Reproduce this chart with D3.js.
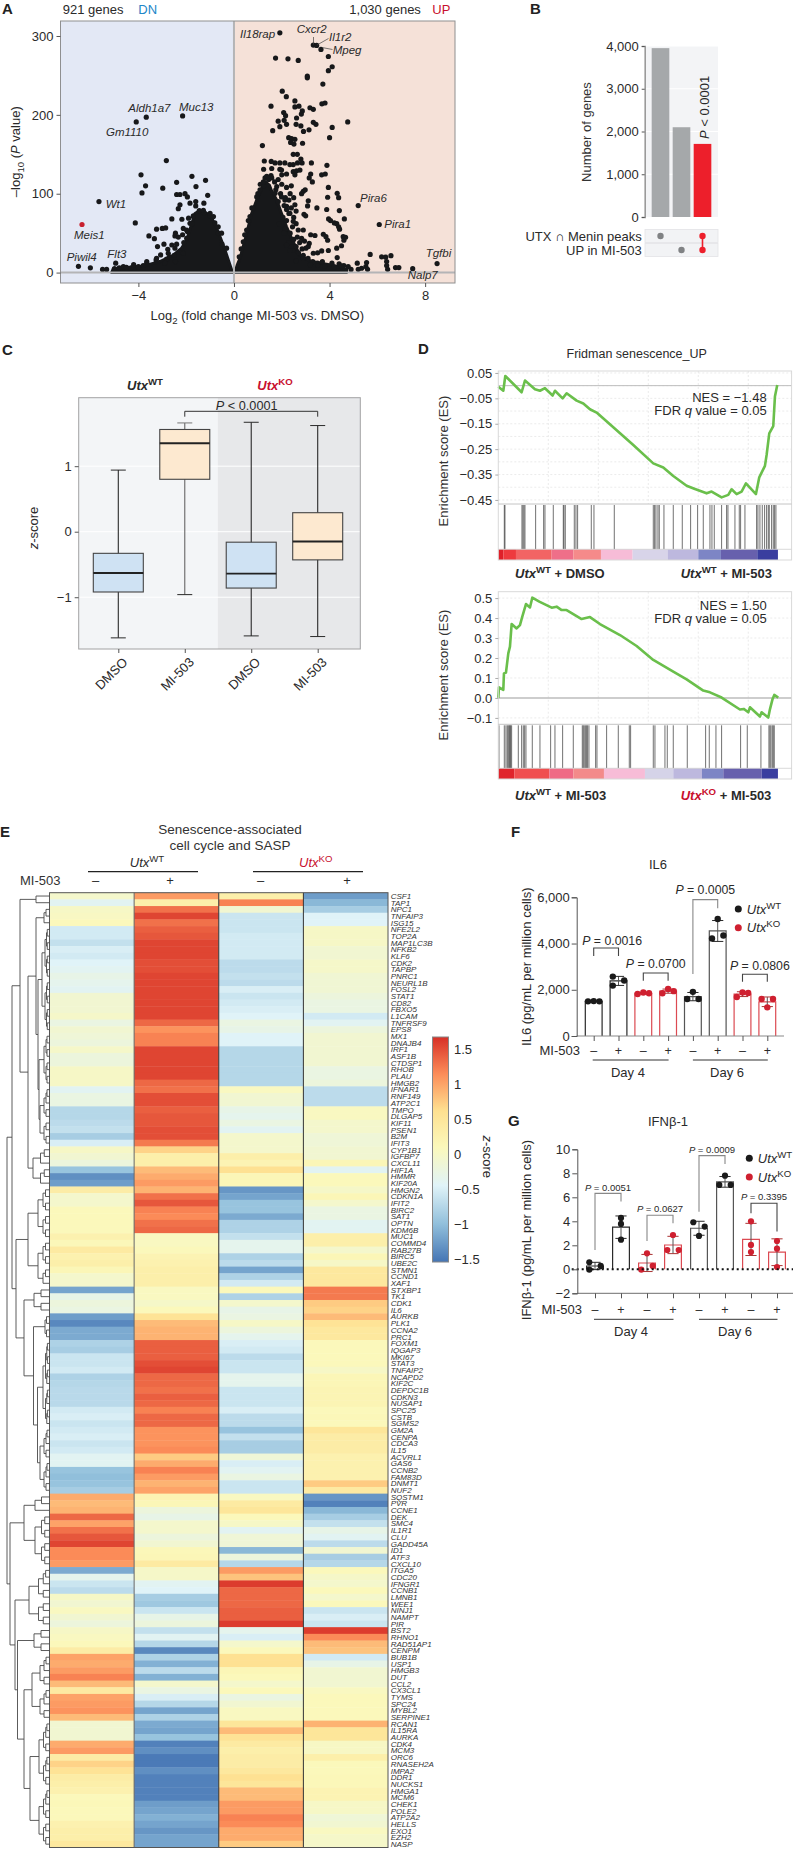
<!DOCTYPE html>
<html><head><meta charset="utf-8">
<script src="https://cdn.jsdelivr.net/npm/d3@7"></script>
<style>html,body{margin:0;padding:0;background:#fff}svg{display:block;font-family:"Liberation Sans",Arial,sans-serif}</style>
</head><body><script>
// ---------- Panel A data: log2 fold change, -log10 P
const volcanoUp = [[1.92,304],[3.32,288.5],[3.46,288],[3.64,283],[3.95,274],[1.74,272],[2.26,271],[2.69,269],[4.11,261],[3.95,256],[3.07,249],[3.07,247],[3.72,239],[2.02,230],[2.19,223],[2.55,217.6],[1.55,211],[2.55,210],[2.72,211],[3.68,214],[3.81,215],[3.18,209],[3.32,207],[2.86,205],[2.82,201],[2.08,203],[2.16,199],[1.85,192],[2.1,193],[2.2,188],[2.62,196],[2.6,188],[2.8,186],[3.32,190.5],[3.43,188],[4.76,191],[4.11,184],[1.62,180],[1.92,185],[2.91,179],[3.14,181],[4,171],[2.29,171],[2.41,170],[2.55,169],[2.37,165],[2.51,163],[2.87,164],[1.19,161],[2.48,150],[2.65,150],[2.8,144],[2.85,139],[1.27,141.5],[1.56,141],[1.72,139],[1.92,139],[2.13,139],[2.34,137],[2.48,137],[2.66,139],[3.24,139],[3.89,136],[1.24,131],[1.58,132],[1.92,131],[1.99,130],[2.48,128],[2.62,129],[2.76,130],[1.55,123],[2.2,125],[2.55,124],[3.21,125],[3.67,124],[3.82,125],[3.15,120],[3.28,115],[3.95,108],[4.32,100.5],[4.38,95],[3.92,95.5],[2.9,103],[2.98,105],[2.83,100],[3.11,91],[3.08,84.5],[3.47,82],[3.88,80],[4.41,78.6],[2.93,74],[3,72],[3.96,68],[4.04,66],[4.2,63],[4.3,62],[4.62,68],[4.38,58],[4.42,55],[2.9,54],[3.21,48],[3.39,47],[3.74,48.6],[3.85,45.6],[3.92,41],[4.57,45.6],[4.67,44.8],[4.6,41],[4.5,34],[4.3,31],[3.67,27.5],[3.95,28],[3.15,37],[3.01,31],[3.32,24.5],[4.32,19],[5.2,85],[6.08,61],[5.7,23],[5.16,12],[5.55,12.7],[5.52,7.6],[5.34,5.5],[5.2,4.2],[5.59,4.2],[6.18,20],[6.35,19.5],[6.57,21.5],[6.39,14],[6.39,9],[6.43,4.2],[6.76,6.3],[6.9,6.3],[7.48,5],[8.5,11.4],[4.78,7.6],
[2,112],[2.2,108],[2.4,110],[2.35,100],[2.15,95],[2.3,92],[2.5,95],[2.55,86],[2.4,82],[2.2,80],[2.1,85],[2.6,78],[2.3,75],[2.5,70],[2.6,62],[2.2,66],[2.45,58],[2.15,55],[2.35,50],[2.65,45],[2.5,42],[2.3,38],[2.75,38],[2.6,33],[2.85,30],[2.45,28],[2.2,35],[2.7,25],[2.9,22],[3.1,18],[3.3,14],[3.5,12],[2.6,15],[2.95,40],[3.5,25],
[1.3,120],[1.45,118],[1.1,112],[1.7,115],[1.85,118],[2,124],[1.25,110],[1,100],[1.75,105],[1.95,100],[1.85,90],[2.05,70],[2.1,50],[0.75,82],[0.6,66],[0.45,48],[0.3,30],[1.9,62],[2.35,28],[3.7,14],[4.1,12],[4.4,11],[4.6,9],
[.95,96],[1.09,105],[1.23,115],[1.37,122],[1.58,120],[1.79,109],[1.72,100.5],[1.99,96],[2.13,92],[2.2,84],[2.34,75],[2.48,65],[2.69,54],[2.83,43.5],[3.11,33],[.81,81.5],[.67,71],[.53,54],[.39,39],[.22,20],[3.5,9],[3.8,8],[4.2,7],[4.5,8.5],[4.9,4],[2.9,18],[3.2,10]];
const volcanoDn = [[-4.09,191],[-3.67,197],[-2.15,198.6],[-2.83,142],[-3.89,124],[-3.7,110],[-3.85,101],[-2.98,107],[-2.4,114.5],[-1.76,122],[-1.19,117],[-1.59,109],[-1.1,98],[-2.4,99],[-2.26,99],[-2.05,100],[-1.95,96],[-2.26,86],[-2.33,81],[-1.84,88],[-1.6,90],[-1.6,84.5],[-1.26,88],[-1.45,78.6],[-2.6,68],[-2.18,67.6],[-1.9,69],[-1.84,62.5],[-3.24,55],[-3,56],[-2.86,56.6],[-4.13,63],[-5.65,90],[-3.56,46.5],[-3.33,43],[-3.2,33],[-2.93,36],[-2.77,29.6],[-2.6,35],[-2.4,36],[-2.47,46.5],[-2.33,45],[-2.12,56],[-1.98,43.5],[-2.12,24.5],[-3.07,22.4],[-2.82,17],[-3.26,16],[-3.65,12],[-4.95,12],[-6.51,8],[-6.01,6],[-5.5,4],[-5.33,4],[-2.45,50],[-2.7,20],[-2.5,22],[-2.45,14],[-2.9,12],[-1.7,72],[-1.25,76],[-1,72],[-0.8,63],[-0.65,50],[-0.5,36],[-1.75,62],[-1.95,52],[-2.1,38],
[-1.7,71],[-1.98,54],[-2.15,48],[-2.47,31],[-2.75,24.5],[-3.24,18],[-3.65,14],[-4.2,10],[-4.63,7.6],[-1.28,79],[-.86,71],[-.66,58],[-.52,50],[-.31,31],[-1,75],[-5,5],[-4.8,6],[-4.5,6.5],[-4.3,6],[-4,7.5],[-3.8,9]];
const volcanoRed = [[-6.36,61]];
const massUp = [[0.04,0],[0.14,10],[0.25,18],[0.46,41],[0.6,58],[0.74,75],[0.95,92],[1.16,107],[1.32,115],[1.48,111],[1.58,103],[1.79,92],[1.99,75],[2.2,58],[2.48,39],[2.76,22],[3.25,14],[4.16,9],[4.71,4],[4.71,0]];
const massDn = [[-0.06,0],[-0.17,10],[-0.38,29],[-0.59,46],[-0.75,58],[-0.93,69],[-1.14,75],[-1.42,79],[-1.63,75],[-1.81,58],[-1.98,41],[-2.19,31],[-2.54,22],[-3.1,14],[-3.79,8],[-5.05,5],[-5.12,0]];
const volcanoGenes = [["Il18rap",240,37.7],["Cxcr2",296.7,33],["Il1r2",329,41],["Mpeg",332.7,54.3],["Aldh1a7",128.3,112],["Muc13",179,111],["Gm1110",106,136],["Wt1",105.7,208],["Meis1",74,239.3],["Piwil4",66.7,261],["Flt3",107.3,258.3],["Pira6",360,201.7],["Pira1",384.3,228.3],["Tgfbi",425.7,257.3],["Nalp7",407.7,279.3]];

// ---------- Panel B data
const upsetCounts = [3950,2100,1710];
const upsetTicks = [0,1000,2000,3000,4000];
const upsetSets = ["UTX \u2229 Menin peaks","UP in MI-503"];

// ---------- Panel C data
const boxNames = ["DMSO","MI-503","DMSO","MI-503"];
const boxLow  = [-1.62,-0.96,-1.59,-1.6];
const boxQ1   = [-0.92,0.8,-0.86,-0.43];
const boxMed  = [-0.63,1.35,-0.64,-0.15];
const boxQ3   = [-0.33,1.56,-0.16,0.29];
const boxHigh = [0.94,1.66,1.67,1.62];

// ---------- Panel D data (rank, enrichment score, hit ranks)
const es1Rank = [0,15,21,70,80,110,125,140,163,170,193,205,235,255,275,295,345,405,465,495,525,565,590,625,640,670,682,690,700,715,730,743,773,783,800,805,813,825,830,837];
const es1Val  = [-.004,-.02,.038,-.026,.02,-.014,-.02,-.01,-.039,-.02,-.05,-.03,-.059,-.07,-.093,-.106,-.164,-.234,-.306,-.322,-.356,-.394,-.407,-.424,-.417,-.44,-.434,-.43,-.408,-.427,-.417,-.385,-.427,-.361,-.316,-.273,-.188,-.159,-.043,.003];
const hits1 = [18,20,71,74,77,80,112,136,140,165,195,197,201,228,233,238,279,287,348,465,469,473,479,483,497,525,552,577,598,615,635,641,648,670,685,689,710,723,727,740,775,779,785,792,799,805,810,813,820,825,829,833];
const es2Rank = [0,2,15,17,23,30,35,40,55,65,72,83,95,102,123,160,175,190,205,250,275,305,365,415,465,525,565,615,635,670,725,737,750,755,785,790,810,815,823,828,840];
const es2Val  = [0,.053,.04,.123,.127,.223,.257,.37,.348,.365,.407,.47,.453,.502,.482,.452,.457,.44,.44,.395,.405,.37,.315,.26,.19,.132,.093,.037,.028,.002,-.058,-.055,-.072,-.047,-.093,-.072,-.098,-.057,-.005,.015,.002];
const hits2 = [2,18,23,27,30,33,35,37,40,60,70,75,79,83,102,125,157,170,193,225,252,255,258,262,265,268,272,292,296,325,360,393,397,465,470,500,507,525,567,622,633,653,670,727,747,788,812,815,818,822,825,828];
const bar1End = [15,53,160,225,308,403,508,600,668,777,839];
const bar1Col = ["#df2029","#ee3a3e","#f26464","#ef6f89","#f58a8a","#f7bcd7","#d8d4e9","#bdb8de","#7d85c5","#6760ad","#3a3e9f"];
const bar2End = [48,153,225,317,440,525,611,675,790,839];
const bar2Col = ["#e0242c","#f04f50","#ef6a85","#f38a8a","#f7bcd7","#d5d3e8","#bdb8de","#7d85c5","#6760ad","#3a3e9f"];

// ---------- Panel E data
const genes = ["CSF1","TAP1","NPC1","TNFAIP3","ISG15","NFE2L2","TOP2A","MAP1LC3B","NFKB2","KLF6","CDK2","TAPBP","PNRC1","NEURL1B","FOSL2","STAT1","CD82","FBXO5","L1CAM","TNFRSF9","EPS8","MX1","DNAJB4","IRF1","ASF1B","CTDSP1","RHOB","PLAU","HMGB2","IFNAR1","RNF149","ATP2C1","TMPO","DLGAP5","KIF11","PSEN1","B2M","IFIT3","CYP1B1","IGFBP7","CXCL11","HIF1A","HMMR","KIF20A","HMGN2","CDKN1A","IFIT2","BIRC2","SAT1","OPTN","KDM6B","MUC1","COMMD4","RAB27B","BIRC5","UBE2C","STMN1","CCND1","XAF1","STXBP1","TK1","CDK1","IL6","AURKB","PLK1","CCNA2","PRC1","FOXM1","IQGAP3","MKI67","STAT3","TNFAIP2","NCAPD2","KIF2C","DEPDC1B","CDKN3","NUSAP1","SPC25","CSTB","SGMS2","GM2A","CENPA","CDCA3","IL15","ACVRL1","GAS6","CCNB2","FAM83D","DNMT1","NUF2","SQSTM1","PVR","CCNE1","DEK","SMC4","IL1R1","CLU","GADD45A","ID1","ATF3","CXCL10","ITGA5","CDC20","IFNGR1","CCNB1","LMNB1","WEE1","NINJ1","NAMPT","PIR","BST2","RHNO1","RAD51AP1","CENPM","BUB1B","USP1","HMGB3","DUT","CCL2","CX3CL1","TYMS","SPC24","MYBL2","SERPINE1","RCAN1","IL15RA","AURKA","CDK4","MCM3","ORC6","RNASEH2A","IMPA2","DDR1","NUCKS1","HMGA1","MCM6","CHEK1","POLE2","ATP2A2","HELLS","EXO1","EZH2","NASP"];
const zWtDmso = [-.05,-.4,0,.03,.1,-.55,-.55,-.65,-.5,-.55,
-.45,-.4,-.3,-.35,-.4,-.1,-.1,-.1,-.03,-.25,
-.1,-.15,-.2,-.03,-.2,-.2,0,0,0,-.4,
-.25,-.25,-.75,-.75,-.7,-.65,-.85,-.5,0,-.1,
-.2,-.95,-1.35,-1.25,.35,-.05,-.05,.1,.1,.1,
.1,.25,.12,.4,.25,.3,.15,-.05,-.05,-1.2,
-.3,-.2,-.25,-1.25,-1.4,-1.15,-1.15,-.8,-.85,-.6,
-.6,-.55,-.8,-.75,-.72,-.72,-.72,-.55,-.5,-.6,
-.55,-.5,-.6,-.55,-.4,-.4,-.95,-1,-.95,-.85,
.95,.85,.9,1.35,1,1.3,1.45,1.55,1.15,1.15,
1.05,-1.15,-.35,-.6,-.7,0,-.1,.05,-.1,-.2,
0,.05,.1,.35,1,.95,1.05,1.2,.85,.4,
1,1.05,1.1,.85,-.1,-.1,-.1,.95,1.05,.35,
.7,.55,.35,.3,.25,.1,.12,.1,.1,.25,
.3,.3,.45];
const zWtMi = [1.05,.3,1.3,1.55,1.3,1.4,1.45,1.55,1.55,1.55,
1.5,1.5,1.55,1.55,1.55,1.55,1.55,1.55,1.55,1.35,
1.1,1.2,1.2,1.55,1.55,1.55,1.55,1.55,1.35,1.3,
1.5,1.5,1.4,1.45,1.45,1.5,1.5,1.25,.7,.3,
.3,.85,.95,1.05,.9,1.3,1.45,1.2,1.15,1.3,
1.35,.05,.05,.1,.2,.25,.3,.3,.3,.05,
.05,-.02,.1,.55,.85,.9,.9,1.4,1.4,1.4,
1.5,1.55,1.35,1.35,1.3,1.4,1.35,1.2,1.35,1.35,
1.1,1.1,1.1,1.15,.75,.95,1.2,1.05,.9,1,
.2,.15,-.2,-.3,-.05,-.05,-.2,-.1,.12,.15,
.4,-.02,-.02,-.4,-.45,-.85,-.9,-.6,-.3,-.2,
-.65,-.4,-.75,-1.4,-.8,-1.1,-.7,-1.1,-.05,-.25,
-.5,-.75,-1.2,-.8,-1.15,-1.2,-.95,-1.45,-1.35,-1.5,
-1.5,-1.35,-1.45,-1.45,-1.45,-1.45,-1.25,-1.2,-1.1,-1.2,
-1.3,-1.2,-1.2];
const zKoDmso = [.3,1.2,-.1,-.6,-.6,-.6,-.55,-.55,-.55,-.55,
-.7,-.7,-.65,-.7,-.5,-.6,-.55,-.5,-.45,-.25,
-.3,-.45,-.45,-.75,-.75,-.75,-.75,-.75,-.75,.05,
-.1,-.1,-.3,-.35,-.25,-.4,-.05,-.05,-.05,.3,
.2,.6,.15,.15,-1.3,-1.2,-.95,-.95,-1.15,-.8,
-.8,-.65,-.35,-.35,-.8,-.7,-1.2,-.8,-.55,.1,
-.8,-.05,-.3,-.25,0,-.2,-.35,-.5,-.55,-.7,
-.6,-.6,-.35,-.35,-.6,-.6,-.6,-.5,-.7,-.7,
-.95,-.65,-.85,-.85,-.15,-.5,-.4,-.25,-.6,-.6,
.05,.4,.5,.1,0,-.4,-.15,-.15,-1.05,-.2,
-.75,1.05,.8,1.6,1.35,1.35,1.35,1.4,1.4,1.6,
-.35,-.5,-.05,.1,.6,.6,.15,.1,-.05,.1,
-.25,-.1,.05,.05,.5,.85,.55,.4,.3,.35,
.35,.45,.6,.5,.85,.85,1.05,1.05,1.2,1.15,
.95,.95,.75];
const zKoMi = [-1.25,-1.05,-.85,-.45,-.45,0,0,0,-.1,-.1,
-.03,-.03,-.12,-.12,-.12,-.2,-.25,-.25,-.55,-.4,
-.2,-.1,-.1,-.1,-.1,-.1,-.25,-.25,-.2,-.7,
-.7,-.7,.05,.05,-.05,-.05,-.15,-.15,-.1,-.1,
.15,-.4,.1,.1,-.02,.15,-.05,-.25,-.25,-.4,
-.4,.3,.3,-.05,.15,0,.45,.45,.45,1.25,
1.25,.75,.7,.85,.55,.45,.45,.1,.1,.1,
.1,0,.15,.15,.18,.18,.18,.1,.12,.1,
.5,.35,.35,.35,.25,.25,.25,.25,.75,.4,
-1.3,-1.45,-1.05,-.85,-.65,-.3,-.4,-.7,-.1,-.85,
-.75,.1,-.02,-.05,.1,-.05,.1,-.6,-.5,-.6,
1.6,1.15,.85,.8,-.55,-.3,-.1,-.1,-.1,.05,
.1,.1,.1,.1,.9,.5,.5,.02,.02,.3,
.1,.1,.12,.12,.2,.2,0,0,-.15,-.1,
.05,-.03,-.03];
const legendTicks = [1.5,1,0.5,0,-0.5,-1,-1.5];
const heatStops = [-1.54,-1,-.45,.1,.62,1.14,1.67];
const heatColors = ["#4575b4","#91bfdb","#e0f3f8","#fbf8bb","#fee090","#fc8d59","#d73027"];

// Dendrogram topology: N(merge position, children), G(first row, last row, merge position)
const N=(x,...children)=>({x,children});
const G=(s,e,x)=>({s,e,x});
const dendrogram = N(7,
 N(12,
  N(20,G(0,1,36),
   N(28,N(36,G(2,4,44),N(38,G(5,20,42),N(39,G(21,28,44),G(29,37,40)))),G(38,43,33))),
  N(16,G(44,58,28),N(24,G(59,62,34),N(33.5,G(63,66,45),N(37.5,G(67,79,43),G(80,89,40)))))),
 N(10,
  N(24,G(90,92,35),G(93,100,35)),
  N(15,G(101,109,29),N(17.5,G(110,113,34),N(24,G(114,123,32),G(124,142,30))))));

// ---------- Panel F, G data (three replicates per bar)
const il6Reps = [[1500,1510,1500],[2570,2180,2400],[1820,1880,1850],[1850,2030,1940],[1910,1600,1600],[5060,4220,4350],[1690,1880,1860],[1600,1240,1600]];
const ifnReps = [[.58,-.03,.28],[4.28,3.78,2.47],[-.03,1.33,.28],[1.61,2.86,1.61],[3.92,2.78,3.56],[7.03,7.8,7.03],[4,2.03,1.44],[2.36,1.72,.19]];
const il6Jitter = [[-1,0,1],[-1,-1,1],[-1,0,1],[-1,0,1],[0,-1,1],[0,-1,1],[-1,0,1],[-1,0,1]];
const ifnJitter = [[-1,-1,1],[0,0,0],[-1,0,1],[-1,0,1],[-1,0,1],[-1,0,1],[0,0,0],[0,0,0]];
const treatment = ["\u2013","+","\u2013","+","\u2013","+","\u2013","+"];
const il6Ticks = [0,2000,4000,6000];
const ifnTicks = [-2,0,2,4,6,8,10];
const il6P = [{a:0,b:1,top:3807,l:3461,r:3461,t:3937,dx:6,p:"0.0016"},{a:2,b:3,top:2725,l:2394,r:2394,t:2927,dx:0,p:"0.0700"},{a:4,b:5,top:5898,l:2682,r:5523,t:6143,dx:0,p:"0.0005"},{a:6,b:7,top:2668,l:2350,r:2350,t:2870,dx:5,p:"0.0806"}];
const ifnP = [{a:0,b:1,top:6.33,l:1.61,r:5.64,t:6.56,dx:0,p:"0.0051"},{a:2,b:3,top:4.5,l:2.36,r:3.83,t:4.78,dx:0,p:"0.0627"},{a:4,b:5,top:9.47,l:4.8,r:8.78,t:9.72,dx:0,p:"0.0009"},{a:6,b:7,top:5.5,l:4.67,r:3.14,t:5.78,dx:0,p:"0.3395"}];

// ---------- helpers
const INK="#2a2a2a", RED="#c8102e";
const svg=d3.select("body").append("svg").attr("width",795).attr("height",1849);
function T(g,x,y,parts,o={}){
  const t=g.append("text").attr("x",x).attr("y",y).attr("font-size",o.size||13)
    .attr("text-anchor",o.anchor||"start").attr("fill",o.fill||INK);
  if(o.rot!=null) t.attr("transform",`rotate(${o.rot} ${x} ${y})`);
  if(o.weight) t.attr("font-weight",o.weight);
  if(o.italic) t.attr("font-style","italic");
  const list=Array.isArray(parts)?parts:[parts];
  const s=o.size||13; let shift=0;
  list.forEach(p=>{
    const q=typeof p==="string"?{t:p}:p;
    const ts=t.append("tspan").text(q.t);
    if(q.i) ts.attr("font-style","italic");
    if(q.b) ts.attr("font-weight","bold");
    if(q.fill) ts.attr("fill",q.fill);
    let target=0, size=s;
    if(q.sup){target=-0.38*s;size=s*.74;}
    if(q.sub){target=0.28*s;size=s*.74;}
    ts.attr("font-size",size);
    if(target!==shift){ts.attr("dy",target-shift);shift=target;}
  });
  return t;
}
const utx=(gt,col,extra,b)=>[{t:"Utx",i:1,fill:col,b},{t:gt,sup:1,fill:col,b},...(extra?[{t:extra,b}]:[])];
const L=(g,x1,y1,x2,y2,c,w)=>g.append("line").attr("x1",x1).attr("y1",y1).attr("x2",x2).attr("y2",y2).attr("stroke",c||INK).attr("stroke-width",w||1);
function styleAxis(a,size,col){a.selectAll("text").attr("font-size",size).attr("fill",INK).attr("font-family",'"Liberation Sans",Arial,sans-serif');a.selectAll("line").attr("stroke",col||"#555");}
[["A",2,14],["B",530,14],["C",2,355],["D",418,354],["E",0,837],["F",511,837],["G",508,1126]].forEach(d=>T(svg,d[1],d[2],d[0],{size:15,weight:"bold",fill:"#222"}));

// ---------- Panel A
(function(){
  const g=svg.append("g");
  const x=d3.scaleLinear().domain([-7.26,9.25]).range([60.5,455]);
  const y=d3.scaleLinear().domain([-13.2,319]).range([283,21]);
  g.append("rect").attr("x",x(-7.26)).attr("y",21).attr("width",x(0)-x(-7.26)).attr("height",262).attr("fill","#e3e8f5");
  g.append("rect").attr("x",x(0)).attr("y",21).attr("width",x(9.25)-x(0)).attr("height",262).attr("fill","#f5e1d8");
  const line=d3.line().x(d=>x(d[0])).y(d=>y(d[1]));
  g.selectAll("path.mass").data([massUp,massDn]).join("path").attr("class","mass").attr("d",d=>line(d)+"Z").attr("fill","#17181a").attr("stroke","#17181a").attr("stroke-width",3).attr("stroke-linejoin","round");
  g.selectAll("circle.u").data(volcanoUp.concat(volcanoDn)).join("circle").attr("class","u").attr("cx",d=>x(d[0])).attr("cy",d=>y(d[1])).attr("r",2.6).attr("fill","#17181a");
  g.selectAll("circle.r").data(volcanoRed).join("circle").attr("class","r").attr("cx",d=>x(d[0])).attr("cy",d=>y(d[1])).attr("r",2.6).attr("fill","#c8202f");
  L(g,x(-7.26),y(0),x(9.25),y(0),"#b4b4b6",2);
  L(g,x(0),21,x(0),283,"#b4b4b6",2);
  g.append("rect").attr("x",60.5).attr("y",21).attr("width",394.5).attr("height",262).attr("fill","none").attr("stroke","#8f8f90").attr("stroke-width",1);
  const ax=g.append("g").attr("transform","translate(0,283)").call(d3.axisBottom(x).tickValues([-4,0,4,8]).tickSize(4).tickPadding(4));
  ax.select(".domain").remove(); styleAxis(ax,13);
  const ay=g.append("g").attr("transform","translate(60.5,0)").call(d3.axisLeft(y).tickValues([0,100,200,300]).tickSize(4).tickPadding(3));
  ay.select(".domain").remove(); styleAxis(ay,13);
  volcanoGenes.forEach(d=>T(g,d[1],d[2],d[0],{size:11.5,italic:1}));
  L(g,313.5,37,313.5,44.5,"#444",.7);L(g,328.5,38.5,317,45,"#444",.7);L(g,332.5,49.5,322,47.5,"#444",.7);
  T(g,62.7,14,"921 genes",{size:13});T(g,138.3,14,"DN",{size:13,fill:"#2186c8"});
  T(g,349.3,14,"1,030 genes",{size:13});T(g,432.3,14,"UP",{size:13,fill:RED});
  T(g,257.3,320,["Log",{t:"2",sub:1}," (fold change MI-503 vs. DMSO)"],{size:13,anchor:"middle"});
  T(g,20,151.7,["\u2013log",{t:"10",sub:1}," (",{t:"P",i:1}," value)"],{size:13,anchor:"middle",rot:-90});
})();

// ---------- Panel B
(function(){
  const g=svg.append("g");
  const y=d3.scaleLinear().domain([0,4000]).range([217,46]);
  const x=d3.scaleBand().domain(upsetCounts.map((d,i)=>i)).range([650,713]).paddingInner(.16).paddingOuter(.08);
  g.append("rect").attr("x",645).attr("y",46).attr("width",73).attr("height",171).attr("fill","#f3f4f6");
  upsetTicks.slice(1).forEach(v=>L(g,645,y(v),718,y(v),"#fff",1));
  g.selectAll("rect.b").data(upsetCounts).join("rect").attr("class","b").attr("x",(d,i)=>x(i)).attr("width",x.bandwidth()).attr("y",d=>y(d)).attr("height",d=>y(0)-y(d)).attr("fill",(d,i)=>i==2?"#ed1f2b":"#a5a8aa");
  const a=g.append("g").attr("transform","translate(644.7,0)").call(d3.axisLeft(y).tickValues(upsetTicks).tickFormat(d3.format(",")).tickSize(3).tickPadding(3));
  styleAxis(a,13); a.select(".domain").attr("stroke","#9a9a9a").attr("stroke-width",1.6);
  T(g,591,132,"Number of genes",{size:13,anchor:"middle",rot:-90,fill:"#333"});
  T(g,709,139,[{t:"P",i:1}," < 0.0001"],{size:13,rot:-90,anchor:"start"});
  const ry=d3.scalePoint().domain([0,1]).range([236,250]);
  upsetSets.forEach((s,i)=>{
    g.append("rect").attr("x",645).attr("y",ry(i)-6.5).attr("width",73).attr("height",13).attr("fill","#f2f3f5").attr("stroke","#e3e3e6").attr("stroke-width",.8);
    T(g,641.7,ry(i)+4.5,s,{size:13,anchor:"end"});
  });
  const cx=i=>x(i)+x.bandwidth()/2;
  g.append("circle").attr("cx",cx(0)).attr("cy",ry(0)).attr("r",3.2).attr("fill","#808284");
  g.append("circle").attr("cx",cx(1)).attr("cy",ry(1)).attr("r",3.2).attr("fill","#808284");
  L(g,cx(2),ry(0),cx(2),ry(1),"#ed1f2b",1.6);
  [0,1].forEach(i=>g.append("circle").attr("cx",cx(2)).attr("cy",ry(i)).attr("r",3.2).attr("fill","#ed1f2b"));
})();

// ---------- Panel C
(function(){
  const g=svg.append("g");
  const y=d3.scaleLinear().domain([-1.79,2.045]).range([649,397.7]);
  const x=d3.scalePoint().domain([0,1,2,3]).range([118.3,317.7]);
  g.append("rect").attr("x",78.7).attr("y",397.7).attr("width",139).attr("height",251.3).attr("fill","#f3f5f7");
  g.append("rect").attr("x",217.7).attr("y",397.7).attr("width",142.6).attr("height",251.3).attr("fill","#e7e8ea");
  [-1,0,1].forEach(v=>L(g,78.7,y(v),360.3,y(v),"#fff",1));
  boxNames.forEach((n,i)=>{
    const c=x(i),col=i%2?"#fde9d0":"#cfe2f3",w=50;
    L(g,c,y(boxLow[i]),c,y(boxHigh[i]),i==1?"#666":"#2a2a2a",1.1);
    L(g,c-7.5,y(boxLow[i]),c+7.5,y(boxLow[i]),"#2a2a2a",1);
    L(g,c-7.5,y(boxHigh[i]),c+7.5,y(boxHigh[i]),i==1?"#777":"#2a2a2a",1);
    g.append("rect").attr("x",c-w/2).attr("y",y(boxQ3[i])).attr("width",w).attr("height",y(boxQ1[i])-y(boxQ3[i])).attr("fill",col).attr("stroke","#444").attr("stroke-width",1.1);
    L(g,c-w/2,y(boxMed[i]),c+w/2,y(boxMed[i]),"#222",1.9);
  });
  g.append("rect").attr("x",78.7).attr("y",397.7).attr("width",281.6).attr("height",251.3).attr("fill","none").attr("stroke","#a2a2a3").attr("stroke-width",1);
  const ay=g.append("g").attr("transform","translate(78.7,0)").call(d3.axisLeft(y).tickValues([-1,0,1]).tickFormat(d3.format("d")).tickSize(4).tickPadding(3));
  ay.select(".domain").remove(); styleAxis(ay,13);
  const ax=g.append("g").attr("transform","translate(0,649)").call(d3.axisBottom(x).tickSize(4).tickFormat(()=>""));
  ax.select(".domain").remove(); styleAxis(ax,13);
  boxNames.forEach((n,i)=>T(g,x(i)+10,663,n,{size:13,anchor:"end",rot:-45}));
  T(g,37.5,528,[{t:"z",i:1},"-score"],{size:13,anchor:"middle",rot:-90});
  T(g,145,390,utx("WT",INK,null,1),{size:13,anchor:"middle",weight:"bold"});
  T(g,275,390,utx("KO",RED,null,1),{size:13,anchor:"middle",weight:"bold"});
  const p=d3.path();p.moveTo(x(1),416.7);p.lineTo(x(1),411.3);p.lineTo(x(3),411.3);p.lineTo(x(3),416.7);
  g.append("path").attr("d",p.toString()).attr("fill","none").attr("stroke","#333").attr("stroke-width",1);
  T(g,246.7,410,[{t:"P",i:1}," < 0.0001"],{size:12.7,anchor:"middle"});
})();

// ---------- Panel D
function gsea(o){
  const g=svg.append("g");
  const x=d3.scaleLinear().domain([0,880]).range([498.3,791.6]);
  const y=d3.scaleLinear().domain(o.dom).range([o.top,o.esBot]);
  const hitBot=o.hitBot,barBot=o.barBot;
  o.minor.forEach(v=>{L(g,x(0),y(v),x(880),y(v),"#e6e6e6",.8).attr("stroke-dasharray","2 2");});
  [150,300,450,600,750].forEach(v=>{L(g,x(v),o.top,x(v),o.esBot,"#e6e6e6",.8).attr("stroke-dasharray","2 2");});
  L(g,x(0),y(0),x(880),y(0),"#bdbdbd",o.zw);
  g.append("path").attr("d",d3.line().x((d,i)=>x(o.rank[i])).y(d=>y(d))(o.val)).attr("fill","none").attr("stroke","#6abf4b").attr("stroke-width",2.6).attr("stroke-linejoin","round");
  g.selectAll("line.h").data(o.hits).join("line").attr("class","h").attr("x1",d=>x(d)).attr("x2",d=>x(d)).attr("y1",o.esBot+1).attr("y2",hitBot).attr("stroke","#333").attr("stroke-width",.7);
  let s=0;
  o.barEnd.forEach((e,i)=>{g.append("rect").attr("x",x(s)).attr("y",hitBot).attr("width",x(e)-x(s)).attr("height",barBot-hitBot).attr("fill",o.barCol[i]);s=e;});
  g.append("rect").attr("x",498.3).attr("y",o.top).attr("width",293.3).attr("height",barBot-o.top).attr("fill","none").attr("stroke","#d9d9d9").attr("stroke-width",1);
  L(g,498.3,o.esBot,791.6,o.esBot,"#c4c4c4",1);L(g,498.3,hitBot,791.6,hitBot,"#d0d0d0",.8);
  const a=g.append("g").attr("transform","translate(498.3,0)").call(d3.axisLeft(y).tickValues(o.ticks).tickFormat(o.fmt).tickSize(3).tickPadding(3));
  a.select(".domain").remove(); styleAxis(a,13,"#aaa");
  T(g,o.ylx,o.yly,"Enrichment score (ES)",{size:13,anchor:"middle",rot:-90,fill:"#333"});
  T(g,766.7,o.nesY,o.nes,{size:13,anchor:"end"});
  T(g,766.7,o.nesY+13.3,["FDR ",{t:"q",i:1}," value = 0.05"],{size:13,anchor:"end"});
  T(g,515,o.labY,o.lab1,{size:13,weight:"bold"});
  T(g,680.7,o.labY,o.lab2,{size:13,weight:"bold"});
}
T(svg,636.7,358,"Fridman senescence_UP",{size:12.5,anchor:"middle"});
gsea({dom:[.0577,-.466],top:371,esBot:504,hitBot:549.3,barBot:560,zw:1,rank:es1Rank,val:es1Val,hits:hits1,barEnd:bar1End,barCol:bar1Col,
 minor:[.05,0,-.05,-.1,-.15,-.2,-.25,-.3,-.35,-.4,-.45],ticks:[.05,-.05,-.15,-.25,-.35,-.45],fmt:d3.format(".2f"),ylx:448,yly:461,nes:"NES = \u22121.48",nesY:401.7,labY:577.7,
 lab1:utx("WT",INK," + DMSO",1),lab2:utx("WT",INK," + MI-503",1)});
gsea({dom:[.532,-.132],top:591.7,esBot:724.3,hitBot:768.3,barBot:779,zw:1.4,rank:es2Rank,val:es2Val,hits:hits2,barEnd:bar2End,barCol:bar2Col,
 minor:[.5,.4,.3,.2,.1,-.1],ticks:[.5,.4,.3,.2,.1,0,-.1],fmt:d3.format(".1f"),ylx:448,yly:675,nes:"NES = 1.50",nesY:610,labY:800,
 lab1:utx("WT",INK," + MI-503",1),lab2:utx("KO",RED," + MI-503",1)});

// ---------- Panel E
(function(){
  const g=svg.append("g");
  const color=d3.scaleLinear().domain(heatStops).range(heatColors).clamp(true);
  const cols=[zWtDmso,zWtMi,zKoDmso,zKoMi];
  const x=d3.scaleBand().domain([0,1,2,3]).range([49.5,388]);
  const y=d3.scaleBand().domain(genes.map((d,i)=>i)).range([892.7,1847.5]);
  cols.forEach((c,i)=>{
    g.append("g").selectAll("rect").data(c).join("rect").attr("x",x(i)).attr("width",x.bandwidth()).attr("y",(d,r)=>y(r)).attr("height",y.bandwidth()+.4).attr("fill",d=>color(d));
  });
  [1,2,3].forEach(i=>L(g,x(i),892.7,x(i),1847.5,i==1?"#666":"#333",1));
  g.append("rect").attr("x",49.5).attr("y",892.7).attr("width",338.5).attr("height",954.8).attr("fill","none").attr("stroke","#555").attr("stroke-width",1);
  g.append("g").selectAll("text").data(genes).join("text").attr("x",390.7).attr("y",(d,i)=>y(i)+y.bandwidth()/2+2.8).attr("font-size",8).attr("font-style","italic").attr("fill","#333").text(d=>d);

  // dendrogram
  const grow=(n)=>{ if(n.children) return {x:n.x,children:n.children.map(grow)};
    const split=(s,e,px)=>{ if(s===e) return {row:s,x:49.5}; const m=(s+e)>>1; const nx=px+(48-px)*.5; return {x:px,children:[split(s,m,nx),split(m+1,e,nx)]}; };
    return split(n.s,n.e,n.x); };
  const root=d3.hierarchy(grow(dendrogram));
  root.eachAfter(n=>{ n.py=n.children? (n.children[0].py+n.children[n.children.length-1].py)/2 : y(n.data.row)+y.bandwidth()/2; });
  const p=d3.path();
  root.descendants().forEach(n=>{ if(!n.children) return;
    const a=n.children[0],b=n.children[1];
    p.moveTo(a.data.x,a.py);p.lineTo(n.data.x,a.py);p.lineTo(n.data.x,b.py);p.lineTo(b.data.x,b.py);});
  g.append("path").attr("d",p.toString()).attr("fill","none").attr("stroke","#4a4a4a").attr("stroke-width",.9);

  T(g,230,834,"Senescence-associated",{size:13.5,anchor:"middle",fill:"#333"});
  T(g,230,850,"cell cycle and SASP",{size:13.5,anchor:"middle",fill:"#333"});
  T(g,147,866.7,utx("WT",INK),{size:13,anchor:"middle"});
  T(g,315.7,866.7,utx("KO",RED),{size:13,anchor:"middle"});
  L(g,88,871.7,198,871.7,"#222",1.2);L(g,253,871.7,363,871.7,"#222",1.2);
  T(g,20,885,"MI-503",{size:13,fill:"#333"});
  [[95.7,"\u2013"],[170,"+"],[260.7,"\u2013"],[347,"+"]].forEach(d=>T(g,d[0],885,d[1],{size:13,anchor:"middle"}));

  // colour legend
  const ly=d3.scaleLinear().domain([1.67,-1.54]).range([1037,1262]);
  const grad=svg.append("defs").append("linearGradient").attr("id","hg").attr("x1",0).attr("x2",0).attr("y1",0).attr("y2",1);
  heatStops.slice().reverse().forEach(s=>grad.append("stop").attr("offset",(1.67-s)/3.21).attr("stop-color",color(s)));
  g.append("rect").attr("x",432.5).attr("y",1037).attr("width",16).attr("height",225).attr("fill","url(#hg)").attr("stroke","#888").attr("stroke-width",1);
  const a=g.append("g").attr("transform","translate(450,0)").call(d3.axisRight(ly).tickValues(legendTicks).tickSize(0).tickPadding(4).tickFormat(d=>d3.format("")(d)));
  a.select(".domain").remove(); styleAxis(a,13);
  T(g,483,1156.7,[{t:"z",i:1},"-score"],{size:13,anchor:"middle",rot:90});
})();

// ---------- Panels F, G
function bars(o){
  const g=svg.append("g");
  const y=d3.scaleLinear().domain(o.dom).range(o.yr);
  const x=d3.scalePoint().domain(d3.range(8)).range(o.xr);
  const bw=16.8, axisY=y(o.dom[0]);
  o.reps.forEach((r,i)=>{
    const m=d3.mean(r),sd=d3.deviation(r),c=x(i),ko=(i==2||i==3||i==6||i==7);
    const col=ko?"#dc4a52":(i==4||i==5?"#555":"#2a2a2a");
    const path=d3.path();path.moveTo(c-bw/2,y(o.zero));path.lineTo(c-bw/2,y(m));path.lineTo(c+bw/2,y(m));path.lineTo(c+bw/2,y(o.zero));
    g.append("path").attr("d",path.toString()).attr("fill","#fff").attr("stroke",col).attr("stroke-width",1.2);
    const ec=ko?"#a33":"#2a2a2a";
    L(g,c,y(m-sd),c,y(m+sd),"#555",1);
    L(g,c-5.6,y(m-sd),c+5.6,y(m-sd),ec,1);L(g,c-5.6,y(m+sd),c+5.6,y(m+sd),ec,1);
    g.selectAll(null).data(r).join("circle").attr("cx",(d,k)=>c+o.jit[i][k]*5.7).attr("cy",d=>y(d)).attr("r",o.dot).attr("fill",ko?"#cf2030":"#1a1a1a");
  });
  if(o.dotted) L(g,571.7,y(0),793,y(0),"#111",2).attr("stroke-dasharray","2 3");
  L(g,o.ax,axisY,o.xEnd,axisY,"#8a8a8a",1.2);
  const ay=g.append("g").attr("transform",`translate(${o.ax},0)`).call(d3.axisLeft(y).tickValues(o.ticks).tickFormat(d3.format(",")).tickSize(5).tickPadding(2));
  styleAxis(ay,13); ay.select(".domain").attr("stroke","#555");
  const t=g.append("g").attr("transform",`translate(0,${axisY})`).call(d3.axisBottom(x).tickSize(5).tickFormat(()=>""));
  t.select(".domain").remove(); t.selectAll("line").attr("stroke","#555");
  treatment.forEach((s,i)=>T(g,x(i),o.miY,s,{size:12.5,anchor:"middle"}));
  T(g,o.miX,o.miY,"MI-503",{size:13,anchor:"end"});
  L(g,x(0)-1,o.ruleY,x(3)+.5,o.ruleY,"#333",1);L(g,x(4),o.ruleY,x(7)+.5,o.ruleY,"#333",1);
  T(g,(x(0)+x(3))/2-3,o.ruleY+17,"Day 4",{size:13,anchor:"middle"});
  T(g,(x(4)+x(7))/2-3,o.ruleY+17,"Day 6",{size:13,anchor:"middle"});
  T(g,o.titleX,o.titleY,o.title,{size:13,anchor:"middle"});
  T(g,o.ylx,o.yly,o.yl,{size:13,anchor:"middle",rot:-90});
  o.pv.forEach(b=>{
    const p=d3.path();p.moveTo(x(b.a),y(b.l));p.lineTo(x(b.a),y(b.top));p.lineTo(x(b.b),y(b.top));p.lineTo(x(b.b),y(b.r));
    g.append("path").attr("d",p.toString()).attr("fill","none").attr("stroke",b.l<b.top*.7?"#888":"#444").attr("stroke-width",1.1);
    T(g,(x(b.a)+x(b.b))/2+b.dx,y(b.t),[{t:"P",i:1}," = "+b.p],{size:o.psize,anchor:"middle"});
  });
  g.append("circle").attr("cx",o.legX).attr("cy",o.legY[0]).attr("r",3.5).attr("fill","#1a1a1a");
  g.append("circle").attr("cx",o.legX).attr("cy",o.legY[1]).attr("r",3.5).attr("fill","#cf2030");
  T(g,o.legX+8.5,o.legY[0]+4.5,utx("WT",INK),{size:13});
  T(g,o.legX+8.5,o.legY[1]+4.5,utx("KO",INK),{size:13});
}
bars({dom:[0,6000],yr:[1036,897.3],xr:[593.7,767.3],zero:0,reps:il6Reps,jit:il6Jitter,dot:3.2,ax:576.7,xEnd:784,ticks:il6Ticks,miX:580,miY:1055,ruleY:1060,
 title:"IL6",titleX:658,titleY:869,yl:"IL6 (pg/mL per million cells)",ylx:531,yly:966.7,pv:il6P,psize:12.3,legX:738.3,legY:[909,927.7]});
bars({dom:[-2,10],yr:[1293.3,1149.3],xr:[595,777],zero:0,reps:ifnReps,jit:ifnJitter,dot:3.1,ax:577.3,xEnd:793,ticks:ifnTicks,miX:582,miY:1313.5,ruleY:1319.3,dotted:1,
 title:"IFN\u03b2-1",titleX:668,titleY:1126,yl:"IFN\u03b2-1 (pg/mL per million cells)",ylx:531,yly:1230,pv:ifnP,psize:9.5,legX:749.3,legY:[1158.3,1177]});
</script></body></html>
